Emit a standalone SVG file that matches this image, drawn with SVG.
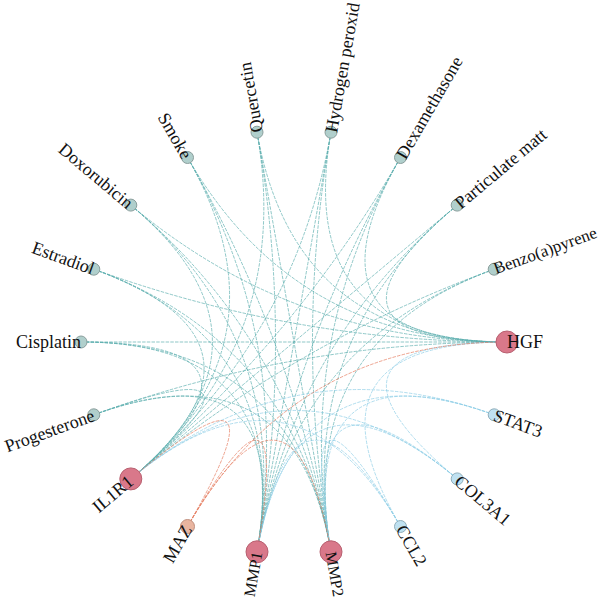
<svg xmlns="http://www.w3.org/2000/svg" width="600" height="600" viewBox="0 0 600 600">
<style>
.e{fill:none;stroke-width:0.8;stroke-dasharray:3.5 1.2;opacity:0.85}
.t{stroke:#5aaeae}
.b{stroke:#8ccde6}
.o{stroke:#e5785a}
.n{stroke-width:1}
.cmp{fill:#b0cfcc;stroke:#8a9e9c}
.hub{fill:#d9788a;stroke:#b86070}
.gene{fill:#bfe1f1;stroke:#90aebb}
.maz{fill:#e9b5a0;stroke:#c0907e}
text{font-family:"Liberation Serif","DejaVu Serif",serif;font-size:18px;fill:#111;dominant-baseline:central}
.s{text-anchor:start}
.en{text-anchor:end}
.sm{font-size:16px}
.md{font-size:17px}
</style>
<rect width="600" height="600" fill="#fff"/>
<g id="connectors">
<path class="e t" d="M457.2 205.1 Q294 342 507 342"/>
<path class="e t" d="M400.5 157.5 Q294 342 507 342"/>
<path class="e t" d="M331 132.2 Q294 342 507 342"/>
<path class="e t" d="M257 132.2 Q294 342 507 342"/>
<path class="e t" d="M187.5 157.5 Q294 342 507 342"/>
<path class="e t" d="M130.8 205.1 Q294 342 507 342"/>
<path class="e t" d="M93.8 269.2 Q294 342 507 342"/>
<path class="e t" d="M81 342 L507 342"/>
<path class="e t" d="M93.8 414.8 Q294 342 507 342"/>
<path class="e t" d="M494.2 269.2 Q294 342 130.8 478.9"/>
<path class="e t" d="M457.2 205.1 Q294 342 130.8 478.9"/>
<path class="e t" d="M400.5 157.5 Q294 342 130.8 478.9"/>
<path class="e t" d="M331 132.2 Q294 342 130.8 478.9"/>
<path class="e t" d="M257 132.2 Q294 342 130.8 478.9"/>
<path class="e t" d="M187.5 157.5 Q294 342 130.8 478.9"/>
<path class="e t" d="M130.8 205.1 Q294 342 130.8 478.9"/>
<path class="e t" d="M93.8 269.2 Q294 342 130.8 478.9"/>
<path class="e t" d="M81 342 Q294 342 130.8 478.9"/>
<path class="e t" d="M93.8 414.8 Q294 342 130.8 478.9"/>
<path class="e t" d="M494.2 269.2 Q294 342 257 551.8"/>
<path class="e t" d="M457.2 205.1 Q294 342 257 551.8"/>
<path class="e t" d="M400.5 157.5 Q294 342 257 551.8"/>
<path class="e t" d="M331 132.2 Q294 342 257 551.8"/>
<path class="e t" d="M257 132.2 Q294 342 257 551.8"/>
<path class="e t" d="M187.5 157.5 Q294 342 257 551.8"/>
<path class="e t" d="M130.8 205.1 Q294 342 257 551.8"/>
<path class="e t" d="M93.8 269.2 Q294 342 257 551.8"/>
<path class="e t" d="M81 342 Q294 342 257 551.8"/>
<path class="e t" d="M93.8 414.8 Q294 342 257 551.8"/>
<path class="e t" d="M494.2 269.2 Q294 342 331 551.8"/>
<path class="e t" d="M457.2 205.1 Q294 342 331 551.8"/>
<path class="e t" d="M400.5 157.5 Q294 342 331 551.8"/>
<path class="e t" d="M331 132.2 Q294 342 331 551.8"/>
<path class="e t" d="M257 132.2 Q294 342 331 551.8"/>
<path class="e t" d="M187.5 157.5 Q294 342 331 551.8"/>
<path class="e t" d="M130.8 205.1 Q294 342 331 551.8"/>
<path class="e t" d="M93.8 269.2 Q294 342 331 551.8"/>
<path class="e t" d="M81 342 Q294 342 331 551.8"/>
<path class="e t" d="M93.8 414.8 Q294 342 331 551.8"/>
<path class="e b" d="M494.2 414.8 Q294 342 130.8 478.9"/>
<path class="e b" d="M494.2 414.8 Q294 342 257 551.8"/>
<path class="e b" d="M494.2 414.8 Q294 342 331 551.8"/>
<path class="e b" d="M457.2 478.9 Q294 342 507 342"/>
<path class="e b" d="M457.2 478.9 Q294 342 130.8 478.9"/>
<path class="e b" d="M457.2 478.9 Q294 342 257 551.8"/>
<path class="e b" d="M457.2 478.9 Q294 342 331 551.8"/>
<path class="e b" d="M400.5 526.5 Q294 342 507 342"/>
<path class="e b" d="M400.5 526.5 Q294 342 130.8 478.9"/>
<path class="e b" d="M400.5 526.5 Q294 342 257 551.8"/>
<path class="e b" d="M400.5 526.5 Q294 342 331 551.8"/>
<path class="e o" d="M187.5 526.5 Q294 342 507 342"/>
<path class="e o" d="M187.5 526.5 Q294 342 130.8 478.9"/>
<path class="e o" d="M187.5 526.5 Q294 342 257 551.8"/>
<path class="e o" d="M187.5 526.5 Q294 342 331 551.8"/>
</g>
<g id="node-HGF"><circle class="n hub" cx="507" cy="342" r="11"/><text class="s" x="507" y="342">HGF</text></g>
<g id="node-Benzo"><circle class="n cmp" cx="494.2" cy="269.2" r="6"/><text class="s md" x="494.2" y="269.2" transform="rotate(-20 494.2 269.2)">Benzo(a)pyrene</text></g>
<g id="node-Particulate"><circle class="n cmp" cx="457.2" cy="205.1" r="6"/><text class="s" x="457.2" y="205.1" transform="rotate(-40 457.2 205.1)">Particulate matt</text></g>
<g id="node-Dexamethasone"><circle class="n cmp" cx="400.5" cy="157.5" r="6"/><text class="s" x="400.5" y="157.5" transform="rotate(-60 400.5 157.5)">Dexamethasone</text></g>
<g id="node-Hydrogen"><circle class="n cmp" cx="331" cy="132.2" r="6"/><text class="s" x="331" y="132.2" transform="rotate(-80 331 132.2)">Hydrogen peroxid</text></g>
<g id="node-Quercetin"><circle class="n cmp" cx="257" cy="132.2" r="6"/><text class="s" x="257" y="132.2" transform="rotate(-100 257 132.2)">Quercetin</text></g>
<g id="node-Smoke"><circle class="n cmp" cx="187.5" cy="157.5" r="6"/><text class="en" x="187.5" y="157.5" transform="rotate(60 187.5 157.5)">Smoke</text></g>
<g id="node-Doxorubicin"><circle class="n cmp" cx="130.8" cy="205.1" r="6"/><text class="en" x="130.8" y="205.1" transform="rotate(40 130.8 205.1)">Doxorubicin</text></g>
<g id="node-Estradiol"><circle class="n cmp" cx="93.8" cy="269.2" r="6"/><text class="en" x="93.8" y="269.2" transform="rotate(20 93.8 269.2)">Estradiol</text></g>
<g id="node-Cisplatin"><circle class="n cmp" cx="81" cy="342" r="6"/><text class="en" x="81" y="342">Cisplatin</text></g>
<g id="node-Progesterone"><circle class="n cmp" cx="93.8" cy="414.8" r="6"/><text class="en" x="93.8" y="414.8" transform="rotate(-20 93.8 414.8)">Progesterone</text></g>
<g id="node-IL1R1"><circle class="n hub" cx="130.8" cy="478.9" r="11"/><text class="en" x="130.8" y="478.9" transform="rotate(-40 130.8 478.9)">IL1R1</text></g>
<g id="node-MAZ"><circle class="n maz" cx="187.5" cy="526.5" r="7"/><text class="en" x="187.5" y="526.5" transform="rotate(-60 187.5 526.5)">MAZ</text></g>
<g id="node-MMP1"><circle class="n hub" cx="257" cy="551.8" r="11"/><text class="en sm" x="257" y="551.8" transform="rotate(-80 257 551.8)">MMP1</text></g>
<g id="node-MMP2"><circle class="n hub" cx="331" cy="551.8" r="11"/><text class="s sm" x="331" y="551.8" transform="rotate(80 331 551.8)">MMP2</text></g>
<g id="node-CCL2"><circle class="n gene" cx="400.5" cy="526.5" r="6"/><text class="s" x="400.5" y="526.5" transform="rotate(60 400.5 526.5)">CCL2</text></g>
<g id="node-COL3A1"><circle class="n gene" cx="457.2" cy="478.9" r="6"/><text class="s" x="457.2" y="478.9" transform="rotate(40 457.2 478.9)">COL3A1</text></g>
<g id="node-STAT3"><circle class="n gene" cx="494.2" cy="414.8" r="6"/><text class="s" x="494.2" y="414.8" transform="rotate(20 494.2 414.8)">STAT3</text></g>
</svg>
